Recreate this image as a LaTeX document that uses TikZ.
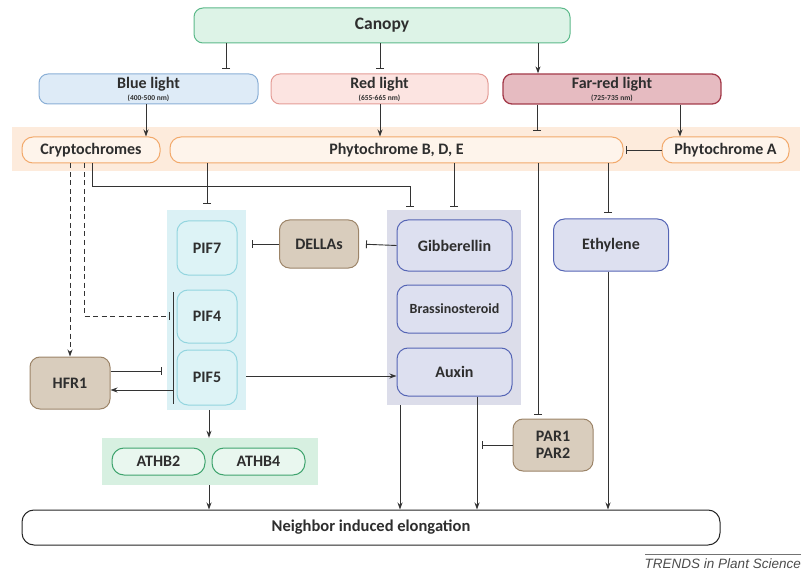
\documentclass[tikz,border=0pt]{standalone}
\usepackage{fontspec}
\setmainfont{Carlito}
\newfontfamily\trendsfont{Liberation Sans}
\usetikzlibrary{arrows.meta,calc}
\newcommand\nmtxt{\fontsize{7.5}{8}\selectfont}
\definecolor{canopyfill}{HTML}{DDF3E7}
\definecolor{canopydraw}{HTML}{5CB98A}
\definecolor{bluefill}{HTML}{DEEBF7}
\definecolor{bluedraw}{HTML}{8AAFD6}
\definecolor{redfill}{HTML}{FCE4E1}
\definecolor{reddraw}{HTML}{E49C96}
\definecolor{farfill}{HTML}{E6BBC1}
\definecolor{fardraw}{HTML}{A33A4A}
\definecolor{orangebg}{HTML}{FDEBDC}
\definecolor{orangefill}{HTML}{FEF4EB}
\definecolor{orangedraw}{HTML}{F2A96B}
\definecolor{cyanbg}{HTML}{DBF1F5}
\definecolor{piffill}{HTML}{DDF3F6}
\definecolor{pifdraw}{HTML}{93D5DF}
\definecolor{tanfill}{HTML}{D9CDBD}
\definecolor{tandraw}{HTML}{9C8468}
\definecolor{lavbg}{HTML}{DCDDEA}
\definecolor{lavfill}{HTML}{DDE0F0}
\definecolor{lavdraw}{HTML}{5565B5}
\definecolor{greenbg}{HTML}{D7F0E1}
\definecolor{athbfill}{HTML}{E9F7EF}
\definecolor{athbdraw}{HTML}{3FA46E}
\definecolor{linec}{HTML}{333333}
\begin{document}
\begin{tikzpicture}[x=1pt,y=-1pt,
  font=\bfseries\fontsize{16}{18}\selectfont,
  box/.style={draw, rounded corners=9pt, line width=1pt, align=center, inner sep=0pt, text=black!82},
  canopyst/.style={box, fill=canopyfill, draw=canopydraw},
  bluest/.style={box, fill=bluefill, draw=bluedraw},
  redst/.style={box, fill=redfill, draw=reddraw},
  farst/.style={box, fill=farfill, draw=fardraw, line width=1.3pt},
  orangest/.style={box, fill=orangefill, draw=orangedraw, rounded corners=11pt},
  pifst/.style={box, fill=piffill, draw=pifdraw, rounded corners=11pt},
  tanst/.style={box, fill=tanfill, draw=tandraw, rounded corners=10pt},
  lavst/.style={box, fill=lavfill, draw=lavdraw, rounded corners=11pt},
  athbst/.style={box, fill=athbfill, draw=athbdraw, rounded corners=12pt},
  bgst/.style={draw=none, inner sep=0pt},
  conn/.style={draw=linec, line width=0.9pt},
  act/.style={conn, -{Stealth[length=7pt,width=5pt]}},
  inh/.style={conn, -{Bar[width=8pt,line width=0.9pt]}}
]
\useasboundingbox (0,0) rectangle (804,575);

% background groups
\node[bgst, fill=orangebg, minimum width=788pt, minimum height=44pt] (orangeband) at (406,149) {};
\node[bgst, fill=cyanbg, minimum width=79pt, minimum height=200pt] (pifbox) at (206.5,310) {};
\node[bgst, fill=lavbg, minimum width=134pt, minimum height=195pt] (lavbox) at (454,307.5) {};
\node[bgst, fill=greenbg, minimum width=216pt, minimum height=47pt] (athbbox) at (210,461.5) {};

% nodes
\node[canopyst, minimum width=376pt, minimum height=35pt, font=\bfseries\fontsize{17.5}{19}\selectfont] (canopy) at (382,25.5) {Canopy};
\node[bluest, minimum width=219pt, minimum height=30pt] (blue) at (148.5,89) {Blue light\\[-6pt]{\nmtxt (400-500 nm)}};
\node[redst, minimum width=217pt, minimum height=30pt] (red) at (379.5,89) {Red light\\[-6pt]{\nmtxt (655-665 nm)}};
\node[farst, minimum width=218pt, minimum height=30pt] (far) at (612,89) {Far-red light\\[-6pt]{\nmtxt (725-735 nm)}};

\node[orangest, minimum width=138pt, minimum height=26pt] (cry) at (91,150) {Cryptochromes};
\node[orangest, minimum width=453pt, minimum height=26pt] (phy) at (396.5,150) {Phytochrome B, D, E};
\node[orangest, minimum width=127pt, minimum height=26pt] (phyA) at (725.5,150) {Phytochrome A};

\node[pifst, minimum width=60pt, minimum height=54pt] (pif7) at (207,248) {PIF7};
\node[pifst, minimum width=60pt, minimum height=53pt] (pif4) at (207,316.5) {PIF4};
\node[pifst, minimum width=60pt, minimum height=55pt] (pif5) at (207,377.5) {PIF5};

\node[tanst, minimum width=79pt, minimum height=48pt] (dellas) at (319,244) {DELLAs};
\node[tanst, minimum width=80pt, minimum height=52pt] (hfr1) at (70,383) {HFR1};
\node[tanst, minimum width=80pt, minimum height=52pt] (par) at (553,445) {PAR1\\[-1pt]PAR2};

\node[lavst, minimum width=115pt, minimum height=51pt] (gib) at (454.5,245.5) {Gibberellin};
\node[lavst, minimum width=115pt, minimum height=48pt, font=\bfseries\fontsize{14}{16}\selectfont] (bras) at (454.5,309) {Brassinosteroid};
\node[lavst, minimum width=115pt, minimum height=48pt] (auxin) at (454.5,372) {Auxin};
\node[lavst, minimum width=115pt, minimum height=52pt] (eth) at (611,245) {Ethylene};

\node[athbst, minimum width=93pt, minimum height=27pt] (athb2) at (158.5,461.5) {ATHB2};
\node[athbst, minimum width=93pt, minimum height=27pt] (athb4) at (258.5,461.5) {ATHB4};

\node[box, draw=black!85, fill=white, rounded corners=12pt, minimum width=698pt, minimum height=35pt, font=\bfseries\fontsize{16.5}{18}\selectfont] (neigh) at (371,527.5) {Neighbor induced elongation};

\node[anchor=south east, inner sep=0pt, font=\trendsfont\itshape\fontsize{13.5}{15}\selectfont, text=black!70] (trends) at (801,569) {TRENDS in Plant Science};
\draw[black!55, line width=0.8pt] (trends.north east) ++(0,-4) coordinate (tr1) -- (tr1 -| trends.north west);

% helper x positions
\coordinate (x70) at (70,0);
\coordinate (x84) at (84,0);
\coordinate (x92) at (92,0);
\coordinate (x146) at (146,0);
\coordinate (x207) at (207,0);
\coordinate (x209) at (209,0);
\coordinate (x226) at (226,0);
\coordinate (x380) at (380,0);
\coordinate (x400) at (400,0);
\coordinate (x454) at (454,0);
\coordinate (x477) at (477,0);
\coordinate (x537) at (537,0);
\coordinate (x538) at (538,0);
\coordinate (x608) at (608,0);
\coordinate (x680) at (680,0);
\coordinate (y371) at (0,371);
\coordinate (y376) at (0,376);
\coordinate (y390) at (0,390);
\coordinate (kink) at (410,186);
\coordinate (pifbartop) at (173,292);
\coordinate (pifbarbot) at (173,404);
\coordinate (dashk) at (84,316);
\coordinate (parj) at (477,445);

% canopy outputs
\draw[inh, shorten >=5pt] (canopy.south -| x226) -- (blue.north -| x226);
\draw[inh, shorten >=5pt] (canopy.south -| x380) -- (red.north -| x380);
\draw[act] (canopy.south -| x538) -- (far.north -| x538);

% light to receptors
\draw[act] (blue.south -| x146) -- (cry.north -| x146);
\draw[act] (red.south -| x380) -- (phy.north -| x380);
\draw[inh, shorten >=6pt] (far.south -| x537) -- (phy.north -| x537);
\draw[act] (far.south -| x680) -- (phyA.north -| x680);
\draw[inh, shorten >=2pt] (phyA.west) -- (phy.east);

% phytochrome outputs
\draw[inh, shorten >=6pt] (phy.south -| x207) -- (pifbox.north -| x207);
\draw[inh, shorten >=3pt] (phy.south -| x454) -- (lavbox.north -| x454);
\draw[inh, shorten >=6pt] (phy.south -| x608) -- (eth.north -| x608);
\draw[inh, shorten >=4pt] (phy.south -| x538) -- (par.north -| x538);

% cryptochrome outputs
\draw[inh, shorten >=3pt] (cry.south -| x92) |- (kink) -- (lavbox.north -| kink);
\draw[act, dash pattern=on 5pt off 3.5pt] (cry.south -| x70) -- (hfr1.north -| x70);
\draw[conn] (pifbartop) -- (pifbarbot);
\draw[inh, dash pattern=on 5pt off 3.5pt, shorten >=3pt] (cry.south -| x84) |- (dashk -| pifbartop);

% HFR1 and PIFs
\draw[inh, shorten >=11pt] (hfr1.east |- y371) -- (pifbartop |- y371);
\draw[act] (pifbartop |- y390) -- (hfr1.east |- y390);

% DELLAs / gibberellin
\draw[inh, shorten >=6pt] (dellas.west) -- (pifbox.east |- dellas.west);
\draw[inh, shorten >=7pt] (gib.west) -- (dellas.east);

% PIF5 to auxin
\draw[act] (pifbox.east |- y376) -- (auxin.west |- y376);

% to ATHB and elongation
\draw[act] (pifbox.south -| x209) -- (athbbox.north -| x209);
\draw[act] (athbbox.south -| x209) -- (neigh.north -| x209);
\draw[act] (lavbox.south -| x400) -- (neigh.north -| x400);
\draw[act] (auxin.south -| x477) -- (neigh.north -| x477);
\draw[act] (eth.south -| x608) -- (neigh.north -| x608);
\draw[inh, shorten >=5pt] (par.west |- parj) -- (parj);
\end{tikzpicture}
\end{document}
